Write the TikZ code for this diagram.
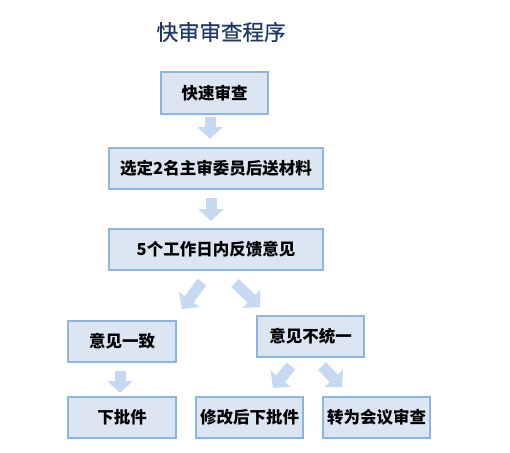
\documentclass[tikz,border=0pt]{standalone}
\usepackage{fontspec}
\setmainfont{Noto Sans CJK SC}
\newfontfamily\cjkfont{Noto Sans CJK SC}
\newfontfamily\titlefont[FakeBold=0.6]{Noto Sans CJK SC}
\usetikzlibrary{arrows.meta}
\definecolor{boxfill}{HTML}{DCE6F2}
\definecolor{boxline}{HTML}{8EB4E3}
\definecolor{arrowfill}{HTML}{C6D9F1}
\definecolor{titlecol}{HTML}{1F3864}
\tikzset{
  stepbox/.style={draw=boxline, line width=2pt, fill=boxfill, inner sep=0pt,
    font=\cjkfont\bfseries\fontsize{16.5pt}{18pt}\selectfont, text=black},
  barrow/.style={draw=arrowfill, line width=11pt, line cap=butt,
    -{Triangle[width=25pt,length=12pt]}},
}
\begin{document}
\begin{tikzpicture}[x=1pt,y=-1pt]
\useasboundingbox (0,0) rectangle (510,452);
\node[font=\titlefont\fontsize{21.5pt}{24pt}\selectfont, text=titlecol] (title) at (221,32) {快审审查程序};
\node[stepbox, minimum width=107pt, minimum height=42pt] (b1) at (214.5,93) {快速审查};
\node[stepbox, minimum width=214pt, minimum height=41pt] (b2) at (216,168.5) {选定2名主审委员后送材料};
\node[stepbox, minimum width=214pt, minimum height=41pt] (b3) at (216,249.5) {5个工作日内反馈意见};
\node[stepbox, minimum width=108pt, minimum height=41pt] (b4) at (122,341.5) {意见一致};
\node[stepbox, minimum width=107pt, minimum height=41pt] (b5) at (310.5,336.5) {意见不统一};
\node[stepbox, minimum width=108pt, minimum height=41pt] (b6) at (122,417.5) {下批件};
\node[stepbox, minimum width=107pt, minimum height=41pt] (b7) at (249.5,417.5) {修改后下批件};
\node[stepbox, minimum width=107pt, minimum height=41pt] (b8) at (376.5,417.5) {转为会议审查};
\coordinate (a1s) at (210,117); \coordinate (a1e) at (210,139);
\coordinate (a2s) at (211,198); \coordinate (a2e) at (211,221);
\coordinate (a3s) at (202,282); \coordinate (a3e) at (182,309);
\coordinate (a4s) at (235,283); \coordinate (a4e) at (260,307);
\coordinate (a5s) at (120,371); \coordinate (a5e) at (120,393);
\coordinate (a6s) at (291,366); \coordinate (a6e) at (273,388);
\coordinate (a7s) at (322,366); \coordinate (a7e) at (342,387);
\draw[barrow] (a1s) -- (a1e);
\draw[barrow] (a2s) -- (a2e);
\draw[barrow] (a3s) -- (a3e);
\draw[barrow] (a4s) -- (a4e);
\draw[barrow] (a5s) -- (a5e);
\draw[barrow] (a6s) -- (a6e);
\draw[barrow] (a7s) -- (a7e);
\end{tikzpicture}
\end{document}
